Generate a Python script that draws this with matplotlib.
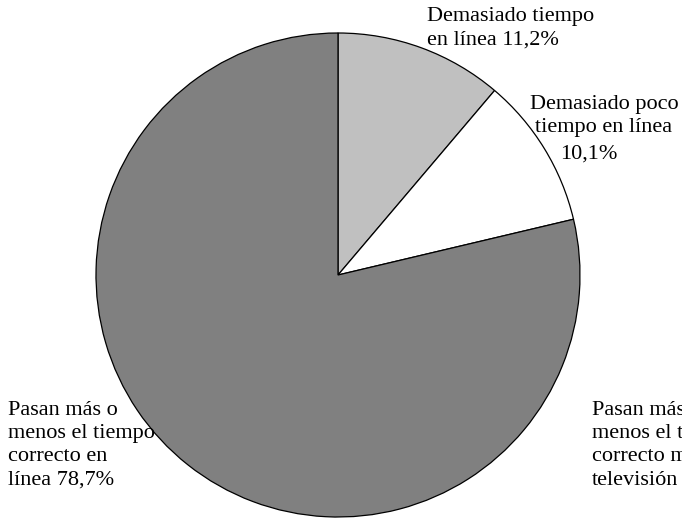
import matplotlib.pyplot as plt

plt.rcParams['font.family'] = ['Liberation Serif', 'DejaVu Serif']

valores = [11.2, 10.1, 78.7]
colores = ['#c0c0c0', '#ffffff', '#808080']
etiquetas = ['Demasiado tiempo\nen línea 11,2%',
             'Demasiado poco\ntiempo en línea',
             '10,1%',
             'Pasan más o\nmenos el tiempo\ncorrecto en\nlínea 78,7%']
extra = 'Pasan más o\nmenos el tiempo\ncorrecto mirando\ntelevisión'

fig = plt.figure(figsize=(6.82, 5.19), dpi=100)
ax = fig.add_axes([0, 0, 1, 1])

ax.pie(valores, colors=colores, startangle=90, counterclock=False,
       center=(338, 244), radius=242, frame=True,
       wedgeprops={'edgecolor': 'black', 'linewidth': 0.9})
ax.set_xlim(0, 682)
ax.set_ylim(0, 519)
ax.set_aspect('equal')
ax.axis('off')

fs = 16
ls = 1.3
ax.text(427, 512, etiquetas[0], fontsize=fs, ha='left', va='top', linespacing=ls)
ax.text(604, 424, etiquetas[1], fontsize=fs, ha='center', va='top',
        multialignment='center', linespacing=ls)
ax.text(589, 374, etiquetas[2], fontsize=fs, ha='center', va='top')
ax.text(8, 118, etiquetas[3], fontsize=fs, ha='left', va='top', linespacing=ls)
ax.text(592, 118, extra, fontsize=fs, ha='left', va='top', linespacing=ls)

fig.savefig('out.png', dpi=100)
